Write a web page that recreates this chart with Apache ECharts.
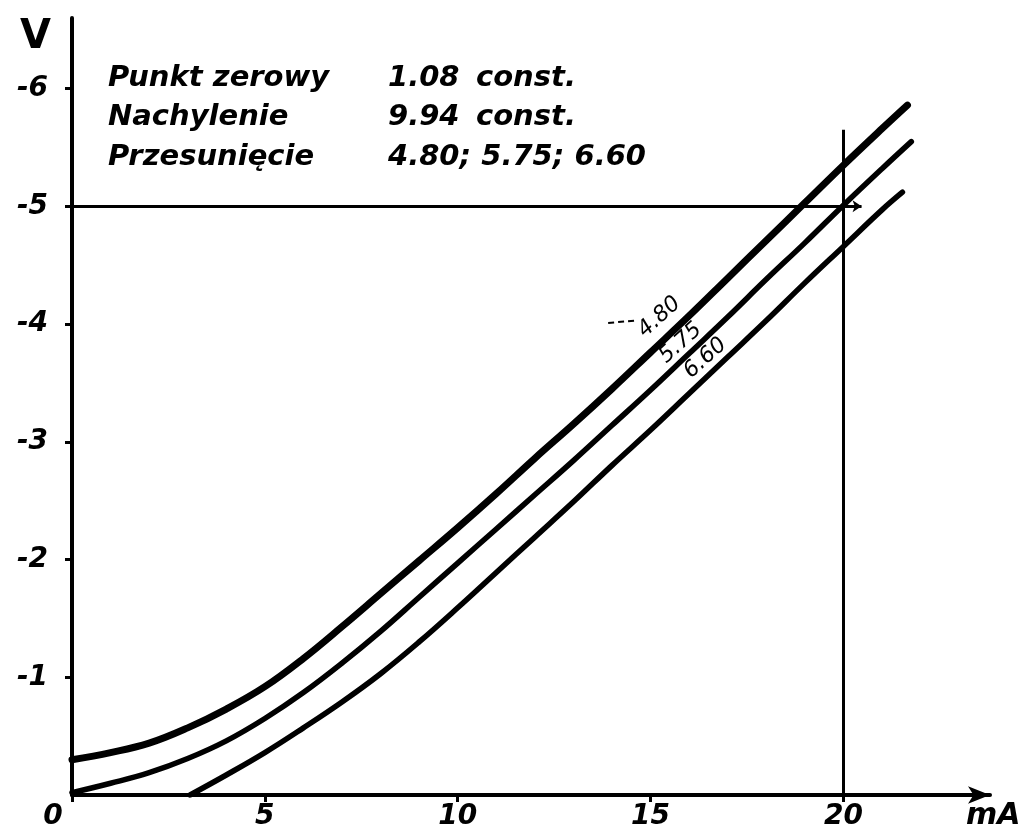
<!DOCTYPE html>
<html><head><meta charset="utf-8">
<script src="https://cdn.jsdelivr.net/npm/echarts@6/dist/echarts.min.js"></script>
<style>html,body{margin:0;padding:0;background:#fff}#c{width:1027px;height:834px}</style>
</head><body><div id="c"></div>
<script>
// ---- data (mA, V) ----
const xTicks = [0, 5, 10, 15, 20];
const yTicks = [-6, -5, -4, -3, -2, -1];
const curveNames = ['4.80', '5.75', '6.60'];
const curve480 = [[0,-0.30],[1,-0.36],[2,-0.44],[3,-0.57],[4,-0.73],[5,-0.92],[6,-1.16],[7,-1.43],[8,-1.71],[9,-1.99],[10,-2.27],[11,-2.56],[12,-2.86],[13,-3.15],[14,-3.45],[15,-3.76],[16,-4.07],[17,-4.39],[18,-4.71],[19,-5.03],[20,-5.35],[21,-5.66],[21.66,-5.86]];
const curve575 = [[0,-0.02],[1,-0.10],[2,-0.19],[3,-0.31],[4,-0.46],[5,-0.65],[6,-0.87],[7,-1.12],[8,-1.39],[9,-1.68],[10,-1.97],[11,-2.26],[12,-2.55],[13,-2.84],[14,-3.14],[15,-3.44],[16,-3.75],[17,-4.06],[18,-4.38],[19,-4.69],[20,-5.01],[21,-5.32],[21.76,-5.55]];
const curve660 = [[3.06,0],[4,-0.17],[5,-0.36],[6,-0.57],[7,-0.79],[8,-1.03],[9,-1.30],[10,-1.59],[11,-1.89],[12,-2.19],[13,-2.49],[14,-2.80],[15,-3.10],[16,-3.41],[17,-3.72],[18,-4.03],[19,-4.35],[20,-4.66],[21,-4.97],[21.53,-5.12]];
const curveLabelPos = [[15.23,-4.06],[15.78,-3.84],[16.42,-3.71]];
const pointerLine = [[13.9,-4.01],[14.62,-4.03]];
const refV = -5, refVEnd = 20.47;
const refI = 20, refITop = -5.65;
const infoLabels = ['Punkt zerowy', 'Nachylenie', 'Przesunięcie'];
const infoValues = ['1.08', '9.94', '4.80; 5.75; 6.60'];
const infoUnits = ['const.', 'const.', ''];

// ---- chart ----
const FONT = 'DejaVu Sans';
const chart = echarts.init(document.getElementById('c'), null, {renderer: 'canvas'});
const hand = {fontFamily: FONT, fontStyle: 'italic', fontWeight: 'bold', color: '#000'};
const widths = [7, 5.5, 5.5];
const curves = [curve480, curve575, curve660];

const series = curves.map((d, i) => ({
  type: 'line', name: curveNames[i], data: d, smooth: 0.4, showSymbol: false, silent: true,
  lineStyle: {color: '#000', width: widths[i], cap: 'round'},
  markPoint: {
    symbol: 'rect', symbolSize: 1, itemStyle: {color: 'rgba(0,0,0,0)'},
    label: {show: true, position: 'inside', rotate: 42, formatter: curveNames[i], fontFamily: FONT, fontStyle: 'italic', fontSize: 22, color: '#000'},
    data: [{coord: curveLabelPos[i]}]
  }
}));
series[0].markLine = {
  silent: true, symbol: ['none', 'none'], animation: false,
  lineStyle: {color: '#000', width: 3, type: 'solid'}, label: {show: false},
  data: [
    [{coord: [0, refV]}, {coord: [refVEnd, refV], symbol: 'arrow', symbolSize: 9}],
    [{coord: [refI, 0]}, {coord: [refI, refITop]}],
    [{coord: pointerLine[0], lineStyle: {type: [6, 4], width: 2}}, {coord: pointerLine[1]}]
  ]
};

const graphics = [];
infoLabels.forEach((t, i) => {
  const y = 78 + i * 39.5;
  const font = 'italic bold 29px "' + FONT + '"';
  graphics.push({type: 'text', style: {text: t, x: 108, y, font, fill: '#000', textVerticalAlign: 'middle'}});
  graphics.push({type: 'text', style: {text: infoValues[i], x: 388, y, font, fill: '#000', textVerticalAlign: 'middle'}});
  if (infoUnits[i]) graphics.push({type: 'text', style: {text: infoUnits[i], x: 476, y, font, fill: '#000', textVerticalAlign: 'middle'}});
});
graphics.push({type: 'text', style: {text: 'V', x: 20, y: 38, font: 'bold 40px "' + FONT + '"', fill: '#000', textVerticalAlign: 'middle'}});
graphics.push({type: 'text', style: {text: 'mA', x: 966, y: 816, font: 'italic bold 30px "' + FONT + '"', fill: '#000', textVerticalAlign: 'middle'}});

chart.setOption({
  animation: false,
  backgroundColor: '#fff',
  grid: {left: 72, right: 37, top: 18, bottom: 39, containLabel: false},
  xAxis: {
    type: 'value', min: 0, max: 23.8,
    axisLine: {show: true, onZero: true, symbol: ['none', 'arrow'], symbolSize: [13, 22], lineStyle: {color: '#000', width: 4}},
    axisTick: {show: true, customValues: xTicks, length: 7, lineStyle: {color: '#000', width: 3}},
    axisLabel: {
      customValues: xTicks, margin: 8, fontSize: 28, ...hand,
      formatter: v => v === 0 ? '{z|0}' : String(v),
      rich: {z: {padding: [0, 38, 0, 0], fontSize: 28, ...hand}}
    },
    splitLine: {show: false}
  },
  yAxis: {
    type: 'value', inverse: true, min: -6.6, max: 0,
    axisLine: {show: true, onZero: false, lineStyle: {color: '#000', width: 4}},
    axisTick: {show: true, customValues: yTicks, length: 7, lineStyle: {color: '#000', width: 3}},
    axisLabel: {customValues: yTicks, margin: 24, fontSize: 28, ...hand, formatter: v => String(v)},
    splitLine: {show: false}
  },
  series,
  graphic: graphics
});
</script></body></html>
